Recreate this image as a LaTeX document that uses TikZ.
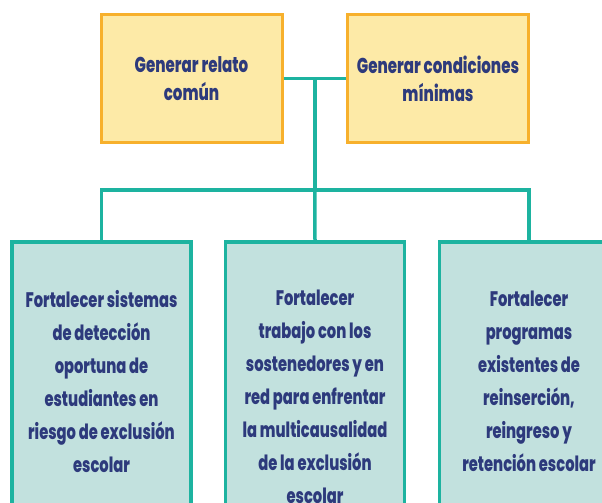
\documentclass[tikz,border=0pt]{standalone}
\usepackage{fontspec}
\setmainfont{Poppins}[FakeStretch=0.7, BoldFont={Poppins ExtraBold}]
\usepackage{xcolor}
\usetikzlibrary{positioning,calc}
\definecolor{navy}{HTML}{2D3A7C}
\definecolor{sand}{HTML}{FDEAA7}
\definecolor{amber}{HTML}{F7B02C}
\definecolor{teal}{HTML}{1DB3A0}
\definecolor{mint}{HTML}{C2E1DE}

\begin{document}
\begin{tikzpicture}[x=1pt, y=-1pt, top-node/.style={
                rectangle, draw=amber, line width=3pt, fill=sand, text=navy, align=center,
                minimum width=181pt, minimum height=127pt, font=\bfseries\fontsize{21.5}{28}\selectfont},
                goal-node/.style={
                rectangle, draw=teal, line width=3.5pt, fill=mint, text=navy, align=center, anchor=north,
                minimum width=179pt, font=\bfseries\fontsize{21}{33}\selectfont},
                link/.style={draw=teal, line width=3.5pt}]
                \clip (0,0) rectangle (602,503);
                \useasboundingbox (0,0) rectangle (602,503);
                \node[top-node] (relato) at (191.5,78.5) {Generar relato\\ común};
                \node[top-node] (condic) at (438,78.5) {Generar condiciones\\ mínimas};
                \node[goal-node, minimum height=280pt] (deteccion) at (101.5,240) {Fortalecer sistemas\\ de detección\\ oportuna de\\ estudiantes en\\ riesgo de exclusión\\ escolar};
                \node[goal-node, minimum height=310pt] (sostened) at (315,240) {Fortalecer\\ trabajo con los\\ sostenedores y en\\ red para enfrentar\\ la multicausalidad\\ de la exclusión\\ escolar};
                \node[goal-node, minimum height=280pt] (reinser) at (529,240) {Fortalecer\\ programas\\ existentes de\\ reinserción,\\ reingreso y\\ retención escolar};
                \coordinate (mid) at ($(relato.east)!0.5!(condic.west)$);
                \coordinate (bar) at (mid |- 0,190);
                \draw[link] (relato.east) -- (condic.west);
                \draw[link] (mid) -- (bar);
                \draw[link] (deteccion.north) |- (bar) -| (reinser.north);
                \draw[link] (bar) -- (sostened.north);
            \end{tikzpicture}
\end{document}
